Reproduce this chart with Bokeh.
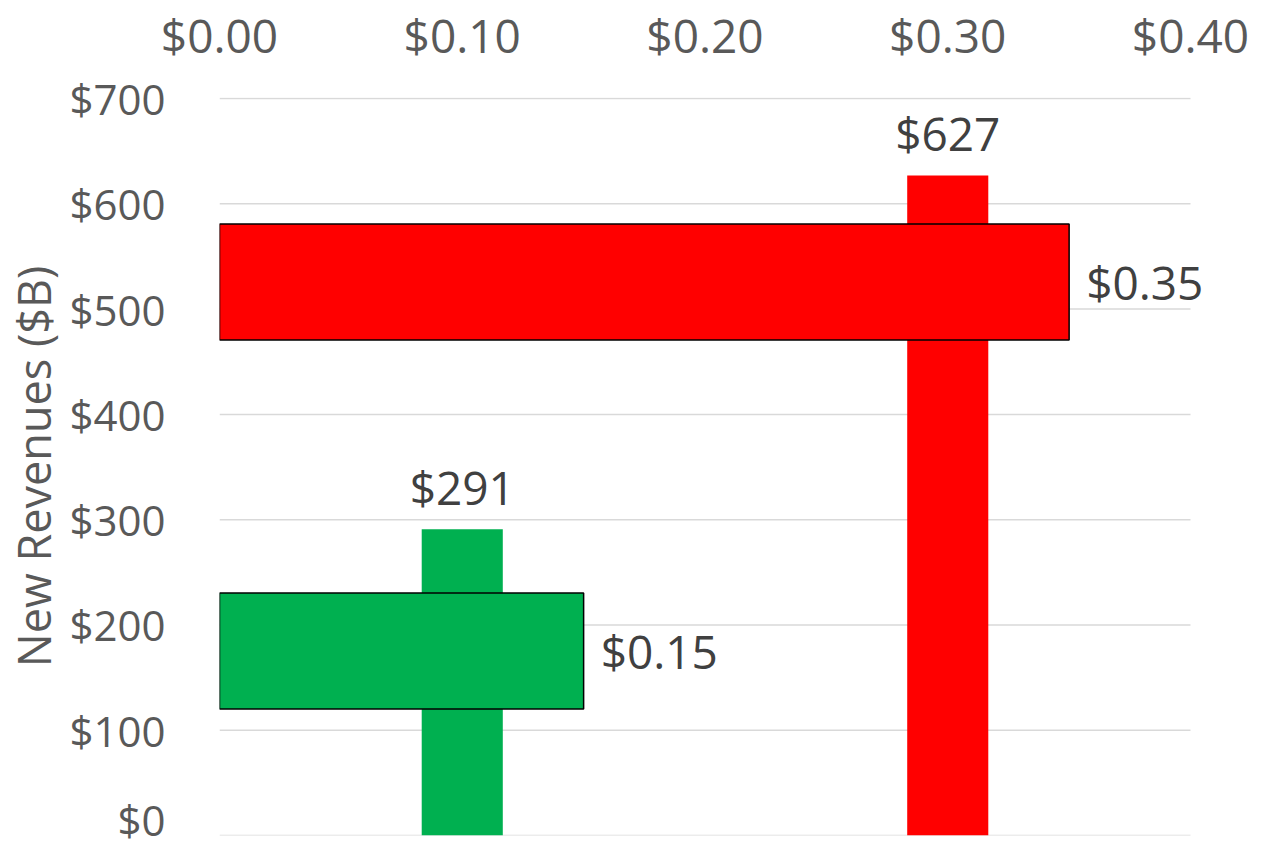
from bokeh.plotting import figure
from bokeh.models import (ColumnDataSource, Range1d, LinearAxis, LabelSet,
                          FixedTicker, NumeralTickFormatter)
from bokeh.core.properties import value
from bokeh.embed import file_html
from bokeh.resources import INLINE

# ---- data ----
categories = ["Scenario A", "Scenario B"]
new_revenues = [291, 627]          # $B, vertical bars (left axis)
price_per_unit = [0.15, 0.35]      # $, horizontal bars (top axis)
colors = ["#00B050", "#FF0000"]
revenue_ticks = [0, 100, 200, 300, 400, 500, 600, 700]
price_ticks = [0.0, 0.1, 0.2, 0.3, 0.4]

FONT = "Open Sans"

n = len(categories)
cat_pos = [i + 0.5 for i in range(n)]   # category slots, like a category axis

PLOT_W = 971                 # pixel width of the chart's plot area
EXTRA = 19                   # room on the right for the data label
stretch = (PLOT_W + EXTRA) / PLOT_W
x_max = price_ticks[-1]

p = figure(frame_width=PLOT_W + EXTRA, frame_height=738, output_backend="svg",
           toolbar_location=None,
           x_range=Range1d(0, x_max * stretch),
           y_range=Range1d(0, revenue_ticks[-1] + 1),
           x_axis_location=None, y_axis_location=None,
           min_border_left=214, min_border_top=95, min_border_right=44,
           min_border_bottom=12)
p.outline_line_color = None
p.background_fill_color = "white"
p.border_fill_color = "white"
p.xgrid.visible = False
p.ygrid.visible = False

# hidden category range (secondary axes of the combo chart)
p.extra_x_ranges = {"cat": Range1d(0, n * stretch)}
p.extra_y_ranges = {"cat": Range1d(0, n)}

# left axis
yax = LinearAxis(ticker=FixedTicker(ticks=revenue_ticks),
                 formatter=NumeralTickFormatter(format="$0"),
                 axis_label="New Revenues ($B)")
yax.axis_line_color = None
yax.major_tick_line_color = None
yax.minor_tick_line_color = None
yax.major_tick_out = 0
yax.major_tick_in = 0
yax.major_label_text_font = FONT
yax.major_label_text_font_size = "42px"
yax.major_label_text_color = "#595959"
yax.major_label_standoff = 54
yax.axis_label_text_font = FONT
yax.axis_label_text_font_size = "45px"
yax.axis_label_text_font_style = "normal"
yax.axis_label_text_color = "#595959"
yax.axis_label_standoff = 2
p.add_layout(yax, "left")

# top axis
xax = LinearAxis(ticker=FixedTicker(ticks=price_ticks),
                 formatter=NumeralTickFormatter(format="$0.00"))
xax.axis_line_color = None
xax.major_tick_line_color = None
xax.minor_tick_line_color = None
xax.major_tick_out = 0
xax.major_tick_in = 0
xax.major_label_text_font = FONT
xax.major_label_text_font_size = "46px"
xax.major_label_text_color = "#595959"
xax.major_label_standoff = 32
p.add_layout(xax, "above")

# horizontal gridlines spanning the plot area
gsrc = ColumnDataSource(dict(y=revenue_ticks,
                             x0=[0] * len(revenue_ticks),
                             x1=[x_max] * len(revenue_ticks)))
p.segment(x0="x0", x1="x1", y0="y", y1="y", source=gsrc,
          line_color="#D9D9D9", line_width=1.5, level="underlay")

vsrc = ColumnDataSource(dict(pos=cat_pos, val=new_revenues, color=colors,
                             lab=["${:.0f}".format(v) for v in new_revenues]))
hsrc = ColumnDataSource(dict(pos=cat_pos, val=price_per_unit, color=colors,
                             lab=["${:.2f}".format(v) for v in price_per_unit]))

# vertical bars (new revenues)
p.vbar(x="pos", top="val", bottom=0, width=0.167, source=vsrc,
       x_range_name="cat", fill_color="color", line_color=None)

# horizontal bars (price)
p.hbar(y="pos", left=0, right="val", height=0.315, source=hsrc,
       y_range_name="cat", fill_color="color", line_color="black",
       line_width=1.5)

vlabels = LabelSet(x="pos", y="val", text="lab", source=vsrc,
                   x_range_name="cat", text_align="center",
                   text_baseline="middle", y_offset=42, level="overlay",
                   text_font=value(FONT), text_font_size=value("46px"),
                   text_color="#404040")
hlabels = LabelSet(x="val", y="pos", text="lab", source=hsrc,
                   y_range_name="cat", text_align="left",
                   text_baseline="middle", x_offset=17, y_offset=0,
                   level="overlay", text_font=value(FONT),
                   text_font_size=value("46px"), text_color="#404040")
p.add_layout(vlabels)
p.add_layout(hlabels)

open("out.html", "w").write(file_html(p, INLINE))
